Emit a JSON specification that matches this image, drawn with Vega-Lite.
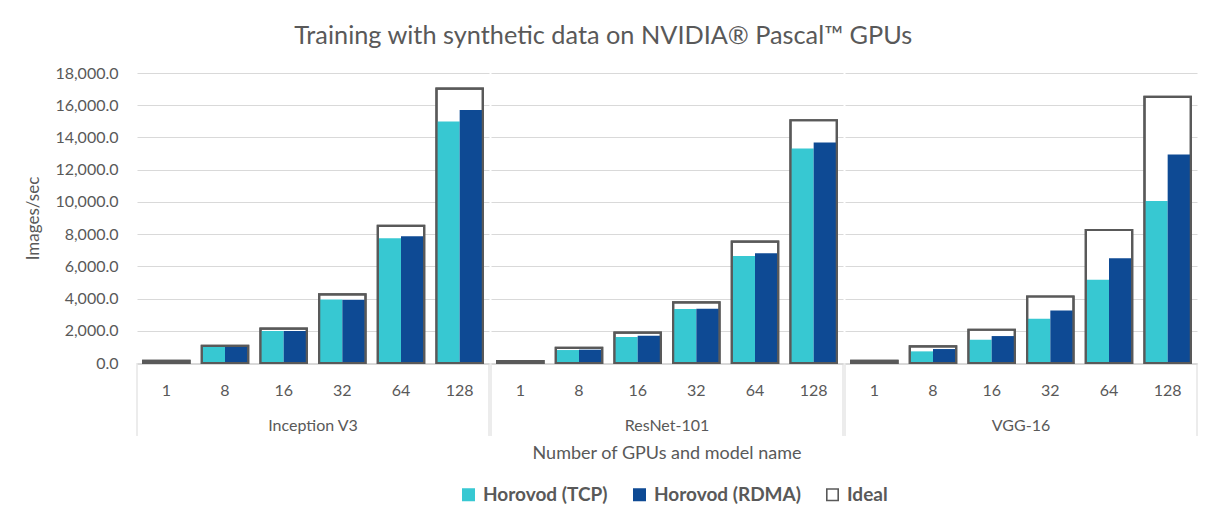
{
  "$schema": "https://vega.github.io/schema/vega-lite/v6.json",
  "background": "white",
  "padding": {"left": 24, "top": 23, "right": 10, "bottom": 5},
  "title": {"text": "Training with synthetic data on NVIDIA® Pascal™ GPUs", "fontSize": 25.3, "font": "Lato", "fontWeight": "normal", "color": "#595959", "anchor": "middle", "offset": 16, "dx": -8},
  "data": {"values": [
    {"model": "Inception V3", "gpus": "1", "series": "Horovod (TCP)", "value": 133},
    {"model": "Inception V3", "gpus": "1", "series": "Horovod (RDMA)", "value": 133},
    {"model": "Inception V3", "gpus": "1", "series": "Ideal", "value": 133},
    {"model": "Inception V3", "gpus": "8", "series": "Horovod (TCP)", "value": 1000},
    {"model": "Inception V3", "gpus": "8", "series": "Horovod (RDMA)", "value": 1010},
    {"model": "Inception V3", "gpus": "8", "series": "Ideal", "value": 1064},
    {"model": "Inception V3", "gpus": "16", "series": "Horovod (TCP)", "value": 1990},
    {"model": "Inception V3", "gpus": "16", "series": "Horovod (RDMA)", "value": 1985},
    {"model": "Inception V3", "gpus": "16", "series": "Ideal", "value": 2128},
    {"model": "Inception V3", "gpus": "32", "series": "Horovod (TCP)", "value": 3942},
    {"model": "Inception V3", "gpus": "32", "series": "Horovod (RDMA)", "value": 3920},
    {"model": "Inception V3", "gpus": "32", "series": "Ideal", "value": 4256},
    {"model": "Inception V3", "gpus": "64", "series": "Horovod (TCP)", "value": 7740},
    {"model": "Inception V3", "gpus": "64", "series": "Horovod (RDMA)", "value": 7864},
    {"model": "Inception V3", "gpus": "64", "series": "Ideal", "value": 8512},
    {"model": "Inception V3", "gpus": "128", "series": "Horovod (TCP)", "value": 14985},
    {"model": "Inception V3", "gpus": "128", "series": "Horovod (RDMA)", "value": 15707},
    {"model": "Inception V3", "gpus": "128", "series": "Ideal", "value": 17024},
    {"model": "ResNet-101", "gpus": "1", "series": "Horovod (TCP)", "value": 118},
    {"model": "ResNet-101", "gpus": "1", "series": "Horovod (RDMA)", "value": 118},
    {"model": "ResNet-101", "gpus": "1", "series": "Ideal", "value": 118},
    {"model": "ResNet-101", "gpus": "8", "series": "Horovod (TCP)", "value": 805},
    {"model": "ResNet-101", "gpus": "8", "series": "Horovod (RDMA)", "value": 826},
    {"model": "ResNet-101", "gpus": "8", "series": "Ideal", "value": 942},
    {"model": "ResNet-101", "gpus": "16", "series": "Horovod (TCP)", "value": 1610},
    {"model": "ResNet-101", "gpus": "16", "series": "Horovod (RDMA)", "value": 1692},
    {"model": "ResNet-101", "gpus": "16", "series": "Ideal", "value": 1883},
    {"model": "ResNet-101", "gpus": "32", "series": "Horovod (TCP)", "value": 3344},
    {"model": "ResNet-101", "gpus": "32", "series": "Horovod (RDMA)", "value": 3370},
    {"model": "ResNet-101", "gpus": "32", "series": "Ideal", "value": 3766},
    {"model": "ResNet-101", "gpus": "64", "series": "Horovod (TCP)", "value": 6646},
    {"model": "ResNet-101", "gpus": "64", "series": "Horovod (RDMA)", "value": 6811},
    {"model": "ResNet-101", "gpus": "64", "series": "Ideal", "value": 7533},
    {"model": "ResNet-101", "gpus": "128", "series": "Horovod (TCP)", "value": 13313},
    {"model": "ResNet-101", "gpus": "128", "series": "Horovod (RDMA)", "value": 13684},
    {"model": "ResNet-101", "gpus": "128", "series": "Ideal", "value": 15066},
    {"model": "VGG-16", "gpus": "1", "series": "Horovod (TCP)", "value": 129},
    {"model": "VGG-16", "gpus": "1", "series": "Horovod (RDMA)", "value": 129},
    {"model": "VGG-16", "gpus": "1", "series": "Ideal", "value": 129},
    {"model": "VGG-16", "gpus": "8", "series": "Horovod (TCP)", "value": 722},
    {"model": "VGG-16", "gpus": "8", "series": "Horovod (RDMA)", "value": 867},
    {"model": "VGG-16", "gpus": "8", "series": "Ideal", "value": 1032},
    {"model": "VGG-16", "gpus": "16", "series": "Horovod (TCP)", "value": 1445},
    {"model": "VGG-16", "gpus": "16", "series": "Horovod (RDMA)", "value": 1672},
    {"model": "VGG-16", "gpus": "16", "series": "Ideal", "value": 2064},
    {"model": "VGG-16", "gpus": "32", "series": "Horovod (TCP)", "value": 2745},
    {"model": "VGG-16", "gpus": "32", "series": "Horovod (RDMA)", "value": 3261},
    {"model": "VGG-16", "gpus": "32", "series": "Ideal", "value": 4128},
    {"model": "VGG-16", "gpus": "64", "series": "Horovod (TCP)", "value": 5160},
    {"model": "VGG-16", "gpus": "64", "series": "Horovod (RDMA)", "value": 6502},
    {"model": "VGG-16", "gpus": "64", "series": "Ideal", "value": 8256},
    {"model": "VGG-16", "gpus": "128", "series": "Horovod (TCP)", "value": 10052},
    {"model": "VGG-16", "gpus": "128", "series": "Horovod (RDMA)", "value": 12941},
    {"model": "VGG-16", "gpus": "128", "series": "Ideal", "value": 16512}
  ]},
  "facet": {
    "column": {
      "field": "model",
      "type": "nominal",
      "sort": ["Inception V3", "ResNet-101", "VGG-16"],
      "header": {
        "labelOrient": "bottom",
        "labelFontSize": 16,
        "labelFont": "Lato",
        "labelColor": "#595959",
        "labelPadding": -19,
        "title": "Number of GPUs and model name",
        "titleOrient": "bottom",
        "titleFontSize": 18,
        "titleFont": "Lato",
        "titleFontWeight": "normal",
        "titleColor": "#595959",
        "titlePadding": -2
      }
    }
  },
  "spacing": 0,
  "spec": {
    "width": 352,
    "height": 290,
    "encoding": {
      "x": {"field": "gpus", "type": "nominal", "sort": ["1", "8", "16", "32", "64", "128"], "title": null},
      "y": {"field": "value", "type": "quantitative", "title": "Images/sec", "scale": {"domain": [0, 18000], "nice": false}}
    },
    "layer": [
      {
        "transform": [{"filter": "datum.series === 'Ideal'"}],
        "mark": {"type": "bar", "width": {"band": 0.79}, "strokeWidth": 2.2},
        "encoding": {
          "color": {
            "field": "series",
            "type": "nominal",
            "scale": {"domain": ["Horovod (TCP)", "Horovod (RDMA)", "Ideal"], "range": ["#37C8D2", "#0E4A94", "#ffffff"]}
          },
          "stroke": {
            "field": "series",
            "type": "nominal",
            "scale": {"domain": ["Horovod (TCP)", "Horovod (RDMA)", "Ideal"], "range": ["#37C8D2", "#0E4A94", "#595959"]}
          }
        }
      },
      {
        "transform": [{"filter": "datum.series !== 'Ideal'"}],
        "mark": {"type": "bar"},
        "encoding": {
          "xOffset": {"field": "series", "type": "nominal", "scale": {"domain": ["Horovod (TCP)", "Horovod (RDMA)"], "paddingInner": 0, "paddingOuter": 0.3}},
          "color": {"field": "series", "type": "nominal"}
        }
      },
      {
        "transform": [{"filter": "datum.series === 'Ideal'"}],
        "mark": {"type": "bar", "width": {"band": 0.79}, "fill": null, "fillOpacity": 0, "stroke": "#595959", "strokeWidth": 2.2}
      },
      {
        "transform": [{"filter": "datum.series === 'Ideal' && datum.gpus === '1'"}],
        "mark": {"type": "rule", "color": "#d9d9d9", "strokeWidth": 1, "clip": false},
        "encoding": {
          "x": {"field": "gpus", "type": "nominal", "sort": ["1", "8", "16", "32", "64", "128"], "bandPosition": 0},
          "y": {"datum": 0},
          "y2": {"datum": -4530}
        }
      },
      {
        "transform": [{"filter": "datum.series === 'Ideal' && datum.gpus === '128'"}],
        "mark": {"type": "rule", "color": "#d9d9d9", "strokeWidth": 1, "clip": false},
        "encoding": {
          "x": {"field": "gpus", "type": "nominal", "sort": ["1", "8", "16", "32", "64", "128"], "bandPosition": 1},
          "y": {"datum": 0},
          "y2": {"datum": -4530}
        }
      }
    ]
  },
  "config": {
    "view": {"stroke": null},
    "font": "Lato",
    "scale": {"bandPaddingInner": 0, "bandPaddingOuter": 0},
    "axisX": {
      "labelAngle": 0,
      "labelFontSize": 16,
      "labelFont": "Lato",
      "labelColor": "#595959",
      "labelPadding": 18,
      "ticks": false,
      "domainColor": "#d9d9d9",
      "grid": false,
      "offset": -73
    },
    "axisY": {
      "titleFontSize": 17,
      "titleFont": "Lato",
      "titleFontWeight": "normal",
      "titleColor": "#595959",
      "titlePadding": 12,
      "labelFontSize": 16,
      "labelFont": "Lato",
      "labelColor": "#595959",
      "labelPadding": 18,
      "format": ",.1f",
      "tickCount": 9,
      "ticks": false,
      "domain": false,
      "gridColor": "#d9d9d9",
      "gridWidth": 1
    },
    "legend": {
      "orient": "none",
      "legendX": 322,
      "legendY": 412,
      "direction": "horizontal",
      "title": null,
      "symbolType": "square",
      "symbolSize": 130,
      "symbolStrokeWidth": 1.6,
      "labelFontSize": 19,
      "labelFont": "Lato",
      "labelFontWeight": "bold",
      "labelColor": "#595959",
      "labelOffset": 5,
      "columnPadding": 22
    }
  }
}
